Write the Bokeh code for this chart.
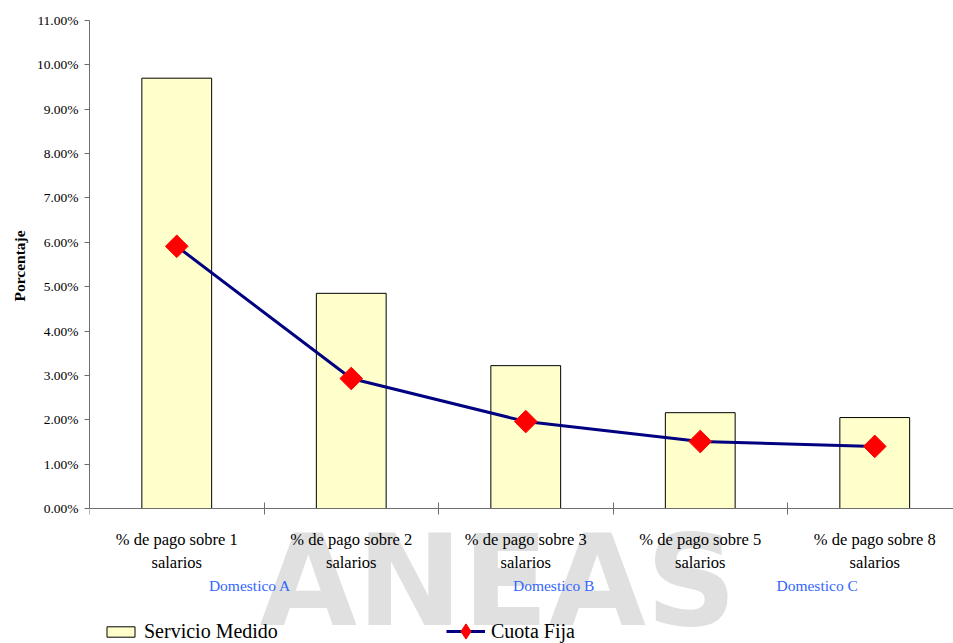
import numpy as np
from bokeh.plotting import figure
from bokeh.models import (Range1d, FixedTicker, NumeralTickFormatter, Label,
                          Legend, LegendItem, ColumnDataSource, Title)
from bokeh.core.properties import value
from bokeh.embed import file_html
from bokeh.resources import INLINE

# Data
categories = ["% de pago sobre 1 salarios", "% de pago sobre 2 salarios",
              "% de pago sobre 3 salarios", "% de pago sobre 5 salarios",
              "% de pago sobre 8 salarios"]
servicio_medido = [0.0970, 0.0485, 0.0322, 0.0216, 0.0205]
cuota_fija = [0.0591, 0.0293, 0.0196, 0.0151, 0.0140]
group_labels = ["Domestico A", "Domestico B", "Domestico C"]
group_positions = [0.92, 2.66, 4.17]
y_ticks = [i / 100 for i in range(0, 12)]

SERIF = "Liberation Serif"
AXIS_GREY = "#6e6e6e"

# Layout: the plotting frame runs down to the bottom of the page so the
# category labels, group names and legend can sit inside it, below y = 0.
W, H = 953, 643
TOP, LEFT = 20, 89
ZERO_PX = 508                      # page row of y = 0
Y_MAX = 0.11
px_per_unit = (ZERO_PX - TOP) / Y_MAX
y_lo = Y_MAX - (H - TOP) / px_per_unit
x_hi = (W - LEFT) / 174.5          # category width in px

x_centers = [i + 0.5 for i in range(len(categories))]
src = ColumnDataSource(dict(x=x_centers, medido=servicio_medido, fija=cuota_fija))

p = figure(width=W, height=H, output_backend="svg", toolbar_location=None,
           x_range=Range1d(0, x_hi), y_range=Range1d(y_lo, Y_MAX),
           min_border_left=LEFT, min_border_right=0, min_border_top=TOP,
           min_border_bottom=0, outline_line_color=None)
p.grid.visible = False

# Watermark (screen units are measured from the frame's bottom-left corner)
p.add_layout(Label(x=170, y=62, x_units="screen", y_units="screen",
                   text="ANEAS", text_font="DejaVu Sans", text_font_style="bold",
                   text_font_size="126px", text_color="#e0e0e0",
                   text_baseline="alphabetic", level="underlay"))

# Bars and line
bars = p.vbar(x="x", top="medido", width=0.4, source=src, fill_color="#FFFFCC",
              line_color="black", line_width=1)
line = p.line(x="x", y="fija", source=src, line_color="#000080", line_width=3)
# diamond used for the legend entry; it sits fully under the rotated squares
legend_pts = p.scatter(x="x", y="fija", source=src, marker="diamond", size=18,
                       fill_color="red", line_color="red")
pts = p.scatter(x="x", y="fija", source=src, marker="square", size=16,
                angle=np.pi / 4, fill_color="red", line_color="red")

# Y axis
ya = p.yaxis[0]
ya.bounds = (0, Y_MAX)
ya.ticker = FixedTicker(ticks=y_ticks)
ya.formatter = NumeralTickFormatter(format="0.00%")
ya.major_label_text_font = SERIF
ya.major_label_text_font_size = "13.5px"
ya.major_label_text_color = "black"
ya.major_label_standoff = 6
ya.major_tick_in = 0
ya.major_tick_out = 5
ya.minor_tick_line_color = None
ya.axis_line_color = AXIS_GREY
ya.major_tick_line_color = AXIS_GREY

# Axis title, placed along the 0-11% span rather than the whole frame
p.add_layout(Title(text="Porcentaje", align="left", offset=342,
                   text_font=SERIF, text_font_style="bold",
                   text_font_size="15.5px", text_color="black", standoff=12), "left")

# X axis drawn at y = 0, with tick marks on the category boundaries
xa = p.xaxis[0]
xa.fixed_location = 0
xa.ticker = FixedTicker(ticks=list(range(len(categories))))
xa.major_label_overrides = {i: "" for i in range(len(categories))}
xa.major_label_standoff = 0
xa.major_tick_in = 6
xa.major_tick_out = 6
xa.major_tick_line_color = AXIS_GREY
xa.minor_tick_line_color = None
xa.axis_line_color = AXIS_GREY

# Category labels under the axis
p.text(x=x_centers, y=[0] * len(categories),
       text=[c.replace(" salarios", "\nsalarios") for c in categories],
       y_offset=21, text_align="center", text_baseline="top",
       text_font=value(SERIF), text_font_size="16.5px", text_line_height=1.25,
       text_color="black")

# Group names
p.text(x=group_positions, y=[0] * len(group_labels), text=group_labels,
       y_offset=77, text_align="center", text_baseline="middle",
       text_font=value(SERIF), text_font_size="15.5px", text_color="#3366FF")

# Legend entries along the bottom edge
common = dict(orientation="horizontal", border_line_color=None,
              background_fill_alpha=0, padding=0, margin=0, label_standoff=6,
              label_text_font=SERIF, label_text_font_size="20px",
              label_text_color="black")
p.add_layout(Legend(items=[LegendItem(label="Servicio Medido", renderers=[bars])],
                    location=(14, 0), glyph_width=35, glyph_height=13, **common),
             "center")
p.add_layout(Legend(items=[LegendItem(label="Cuota Fija", renderers=[line, legend_pts])],
                    location=(357, -7), glyph_width=39, glyph_height=38, **common),
             "center")

open("out.html", "w").write(file_html(p, INLINE))
